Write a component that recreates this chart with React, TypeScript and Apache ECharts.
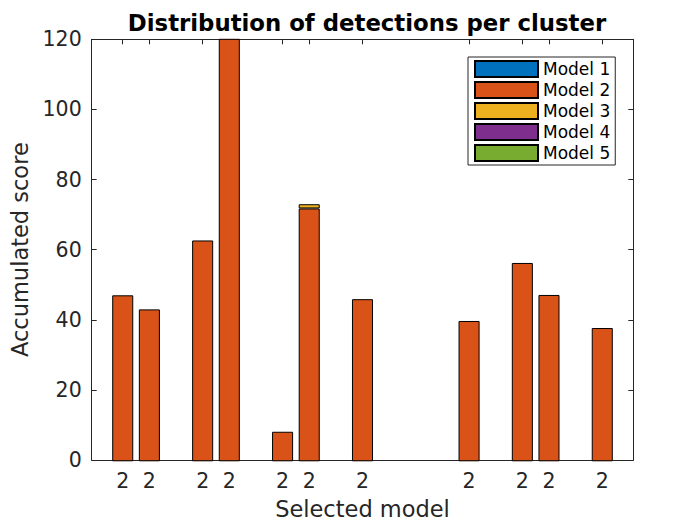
import React, { useEffect, useRef } from "react";
import * as echarts from "echarts";

// Clusters 1..19; bars only where a cluster has detections
const clusters = ["1", "2", "3", "4", "5", "6", "7", "8", "9", "10", "11", "12", "13", "14", "15", "16", "17", "18", "19"];
const clusterPos = [1, 2, 4, 5, 7, 8, 10, 14, 16, 17, 19];
const selectedModel = ["2", "2", "2", "2", "2", "2", "2", "2", "2", "2", "2"];
const seriesNames = ["Model 1", "Model 2", "Model 3", "Model 4", "Model 5"];
const model1 = [0, 0, 0, 0, 0, 0, 0, 0, 0, 0, 0];
const model2 = [47.2, 43.2, 62.8, 128, 8.4, 71.9, 46.1, 39.9, 56.4, 47.3, 37.9];
const model3 = [0, 0, 0, 0, 0, 1.2, 0, 0, 0, 0, 0];
const model4 = [0, 0, 0, 0, 0, 0, 0, 0, 0, 0, 0];
const model5 = [0, 0, 0, 0, 0, 0, 0, 0, 0, 0, 0];
const yTicks = [0, 20, 40, 60, 80, 100, 120];
const colors = ["#0072BD", "#D95319", "#EDB120", "#7E2F8E", "#77AC30"];

const FONT = "DejaVu Sans";
const AX = "#262626";

export default function App() {
  const ref = useRef<HTMLDivElement>(null);
  useEffect(() => {
    document.body.style.margin = "0";
    const chart = echarts.init(ref.current!, null, { renderer: "svg" });
    const allData = [model1, model2, model3, model4, model5];
    const W = 700;
    const gl = 91.7, gr = 66.7, gt = 39.3, gb = 63.7;
    const xMin = clusterPos[0] - 1.165;
    const xMax = clusterPos[clusterPos.length - 1] + 1.165;
    const unit = (W - gl - gr) / (xMax - xMin);
    const barLeft = gl + (1 - 0.5 - xMin) * unit;
    const barWidthPx = clusters.length * unit;
    const barRight = W - barLeft - barWidthPx;

    const labelMap: Record<number, string> = {};
    clusterPos.forEach((p, i) => (labelMap[p] = selectedModel[i]));
    const baseX = {
      type: "value" as const,
      gridIndex: 0,
      min: xMin,
      max: xMax,
      splitLine: { show: false },
      axisLine: { show: true, onZero: false, lineStyle: { color: AX, width: 1 } },
    };
    const baseY = {
      type: "value" as const,
      gridIndex: 0,
      min: yTicks[0],
      max: yTicks[yTicks.length - 1],
      interval: 20,
      splitLine: { show: false },
      axisLine: { show: true, onZero: false, lineStyle: { color: AX, width: 1 } },
      axisTick: { show: true, inside: true, length: 5, lineStyle: { color: AX } },
    };
    const full = (arr: number[]) =>
      clusters.map((_, k) => {
        const i = clusterPos.indexOf(k + 1);
        return i >= 0 && arr[i] !== 0 ? arr[i] : null;
      });
    chart.setOption({
      animation: false,
      title: {
        text: "Distribution of detections per cluster",
        left: 362,
        top: 6,
        textAlign: "center",
        textStyle: { fontFamily: FONT, fontSize: 22.8, fontWeight: "bold", color: "#000" },
      },
      grid: [
        { left: gl, right: gr, top: gt, bottom: gb, containLabel: false },
        { left: barLeft, right: barRight, top: gt, bottom: gb, containLabel: false },
      ],
      legend: {
        orient: "vertical",
        left: 468,
        top: 57,
        padding: [3, 5, 3, 6],
        itemWidth: 63,
        itemHeight: 16,
        itemGap: 3,
        icon: "rect",
        backgroundColor: "#fff",
        borderColor: AX,
        borderWidth: 1,
        borderRadius: 0,
        data: seriesNames,
        textStyle: { fontFamily: FONT, fontSize: 17, color: "#000" },
      },
      xAxis: [
        {
          ...baseX,
          position: "bottom",
          name: "Selected model",
          nameLocation: "middle",
          nameGap: 37,
          nameTextStyle: { fontFamily: FONT, fontSize: 22.5, color: AX },
          axisTick: { show: true, inside: true, length: 5, customValues: clusterPos, lineStyle: { color: AX } },
          axisLabel: {
            show: true,
            customValues: clusterPos,
            margin: 10,
            fontFamily: FONT,
            fontSize: 20.5,
            color: AX,
            formatter: (v: number) => labelMap[Math.round(v)] ?? "",
          },
        },
        {
          ...baseX,
          position: "top",
          axisTick: { show: true, inside: true, length: 5, customValues: clusterPos, lineStyle: { color: AX } },
          axisLabel: { show: false },
        },
        {
          type: "category",
          gridIndex: 1,
          data: clusters,
          show: false,
        },
      ],
      yAxis: [
        {
          ...baseY,
          position: "left",
          name: "Accumulated score",
          nameLocation: "middle",
          nameGap: 49,
          nameTextStyle: { fontFamily: FONT, fontSize: 22.5, color: AX },
          axisLabel: { show: true, margin: 10, fontFamily: FONT, fontSize: 20.5, color: AX },
        },
        {
          ...baseY,
          position: "right",
          axisLabel: { show: false },
        },
        {
          type: "value",
          gridIndex: 1,
          min: yTicks[0],
          max: yTicks[yTicks.length - 1],
          show: false,
        },
      ],
      series: seriesNames.map((name, si) => ({
        name,
        type: "bar",
        stack: "total",
        xAxisIndex: 2,
        yAxisIndex: 2,
        barWidth: "79%",
        clip: true,
        itemStyle: { color: colors[si], borderColor: "#000", borderWidth: 1 },
        emphasis: { disabled: true },
        data: full(allData[si]),
      })),
    });
    return () => chart.dispose();
  }, []);
  return <div ref={ref} style={{ width: 700, height: 525 }} />;
}
